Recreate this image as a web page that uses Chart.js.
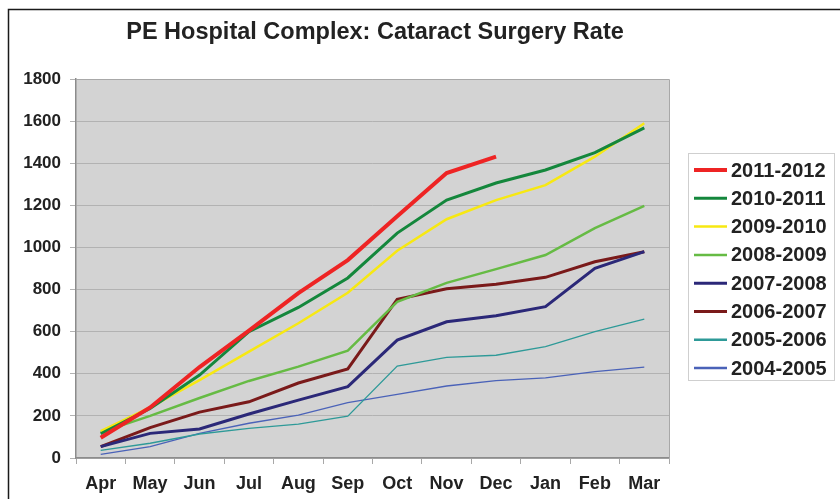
<!DOCTYPE html>
<html>
<head>
<meta charset="utf-8">
<script src="https://cdn.jsdelivr.net/npm/chart.js@4"></script>
<style>
  html, body { margin: 0; padding: 0; background: #fff; }
  #wrap { width: 840px; height: 499px; }
</style>
</head>
<body>
<div id="wrap"><canvas id="cataract"></canvas></div>
<script>
const months = ['Apr', 'May', 'Jun', 'Jul', 'Aug', 'Sep', 'Oct', 'Nov', 'Dec', 'Jan', 'Feb', 'Mar'];

const y2011 = [96, 240, 432, 605, 783, 940, 1148, 1353, 1431];
const y2010 = [115, 235, 394, 600, 715, 855, 1068, 1225, 1306, 1368, 1450, 1568];
const y2009 = [128, 240, 370, 505, 640, 785, 984, 1134, 1225, 1296, 1431, 1590];
const y2008 = [122, 200, 285, 366, 434, 510, 742, 832, 897, 964, 1092, 1197];
const y2007 = [54, 117, 138, 209, 275, 339, 560, 647, 676, 719, 901, 980];
const y2006 = [54, 144, 218, 267, 356, 423, 754, 804, 825, 858, 932, 980];
const y2005 = [36, 70, 114, 141, 161, 199, 437, 478, 488, 529, 600, 660];
const y2004 = [17, 54, 117, 165, 204, 263, 302, 342, 367, 381, 410, 432];

const yTicks = [0, 200, 400, 600, 800, 1000, 1200, 1400, 1600, 1800];

const chartTitle = 'PE Hospital Complex: Cataract Surgery Rate';

function series(label, data, color, width) {
    return {
        label: label,
        data: data,
        borderColor: color,
        backgroundColor: color,
        borderWidth: width,
        pointRadius: 0,
        tension: 0,
        fill: false
    };
}

// grey plot background, frame round the picture, title and boxed legend
const decor = {
    id: 'decor',
    beforeDraw(chart) {
        const c = chart.ctx, a = chart.chartArea;
        c.save();
        c.fillStyle = '#d3d3d3';
        c.fillRect(a.left, a.top, a.right - a.left, a.bottom - a.top);
        c.strokeStyle = '#1a1a1a';
        c.lineWidth = 1.5;
        c.strokeRect(8.5, 9.5, 900, 600);
        c.restore();
    },
    afterDraw(chart) {
        const c = chart.ctx, a = chart.chartArea;
        c.save();
        c.strokeStyle = '#a8a8a8';
        c.lineWidth = 1;
        c.beginPath();
        c.moveTo(a.left, a.top + 0.5);
        c.lineTo(a.right + 0.5, a.top + 0.5);
        c.lineTo(a.right + 0.5, a.bottom);
        c.stroke();

        // title
        c.font = 'bold 23.5px "Liberation Sans", Arial, sans-serif';
        c.fillStyle = '#222';
        c.textAlign = 'center';
        c.textBaseline = 'middle';
        c.fillText(chartTitle, 375, 33);

        // legend
        const lx = 688, ly = 153, lw = 146, lh = 227;
        c.strokeStyle = '#cfcfcf';
        c.lineWidth = 1;
        c.strokeRect(lx + 0.5, ly + 0.5, lw, lh);
        c.font = 'bold 20px "Liberation Sans", Arial, sans-serif';
        c.textAlign = 'left';
        chart.data.datasets.forEach(function (ds, i) {
            const y = 170 + i * 28.3;
            c.strokeStyle = ds.borderColor;
            c.lineWidth = Math.max(ds.borderWidth, 2.5);
            c.beginPath();
            c.moveTo(694, y);
            c.lineTo(727, y);
            c.stroke();
            c.fillText(ds.label, 731, y + 1);
        });
        c.restore();
    }
};

const ctx = document.getElementById('cataract').getContext('2d');
new Chart(ctx, {
    type: 'line',
    data: {
        labels: months,
        datasets: [
            series('2011-2012', y2011, '#ee2424', 4),
            series('2010-2011', y2010, '#14873c', 3),
            series('2009-2010', y2009, '#f7e812', 2.5),
            series('2008-2009', y2008, '#66bb44', 2.5),
            series('2007-2008', y2007, '#2b2878', 3),
            series('2006-2007', y2006, '#7a1a1a', 3),
            series('2005-2006', y2005, '#2e9a98', 1.3),
            series('2004-2005', y2004, '#4a62b8', 1.3)
        ]
    },
    options: {
        responsive: true,
        maintainAspectRatio: false,
        animation: false,
        layout: { padding: { left: 0, right: 171, top: 79, bottom: 0 } },
        scales: {
            x: {
                offset: true,
                grid: {
                    offset: true,
                    drawOnChartArea: false,
                    drawTicks: true,
                    tickLength: 6,
                    color: '#a8a8a8'
                },
                border: { color: '#8c8c8c', width: 1.5 },
                ticks: {
                    color: '#222',
                    padding: 9,
                    font: { family: '"Liberation Sans", Arial, sans-serif', size: 18, weight: 'bold' },
                    maxRotation: 0,
                    autoSkip: false
                },
                afterFit(scale) { scale.height = 41; }
            },
            y: {
                min: 0,
                max: 1800,
                afterBuildTicks(scale) { scale.ticks = yTicks.map(v => ({ value: v })); },
                grid: {
                    color: '#b2b2b2',
                    lineWidth: 1,
                    tickLength: 6
                },
                border: { color: '#8c8c8c', width: 1.5 },
                ticks: {
                    color: '#222',
                    padding: 9,
                    font: { family: '"Liberation Sans", Arial, sans-serif', size: 17, weight: 'bold' },
                    callback: function (v) { return String(v); }
                },
                afterFit(scale) { scale.width = 76; }
            }
        },
        plugins: {
            legend: { display: false },
            tooltip: { enabled: false },
            title: { display: false }
        }
    },
    plugins: [decor]
});
</script>
</body>
</html>
